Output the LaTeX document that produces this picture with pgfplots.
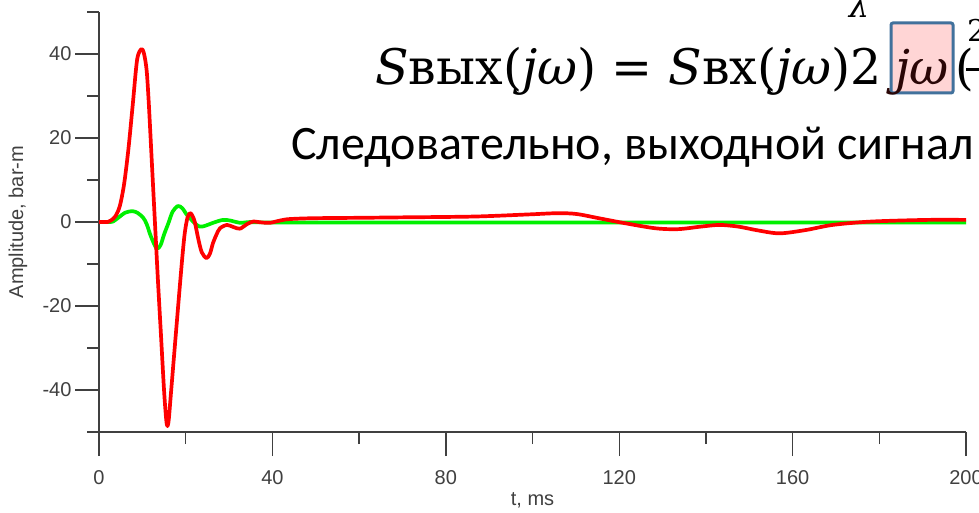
\documentclass[border=0pt]{standalone}
\usepackage{fontspec}
\usepackage{pgfplots}
\usepackage{pgfplotstable}
\pgfplotsset{compat=1.18}
\setmainfont{Liberation Sans}
\newfontfamily\slidefont{Carlito}
\newfontfamily\eqfont{DejaVu Serif}
\definecolor{axisgray}{HTML}{404040}
\definecolor{boxpink}{HTML}{FFD5D5}
\definecolor{boxblue}{HTML}{41719C}
\definecolor{boxtext}{HTML}{2A0606}
\definecolor{trred}{HTML}{FF0000}
\definecolor{trgreen}{HTML}{00F000}

% output trace (red)
\pgfplotstableread{
t a
0 0
2 0
2.8 0.4
3.8 1.4
4.8 3.8
5.8 9.1
6.8 17.5
7.8 28.1
8.8 38.7
9.8 41.2
10.4 40
11 36
11.5 28
12.2 14
12.9 0
13.6 -14
14.3 -27
15.0 -40
15.5 -47
15.8 -48.6
16.1 -47
16.5 -42
17.1 -34.5
17.9 -24.5
18.7 -14.6
19.3 -7.5
19.8 -2.5
20.4 1.0
21 2.1
21.5 1.6
22.1 0
22.9 -4
23.7 -7.2
24.8 -8.6
25.6 -7.5
26.3 -5
27.1 -3
27.9 -1.5
29.5 -0.7
31 -1.2
32.5 -1.6
34 -0.6
35.5 0.1
37.5 -0.1
39.4 -0.2
42 0.4
44 0.7
49.4 0.9
60 1.0
69.4 1.1
86.5 1.3
99 1.8
105.8 2.1
110.2 1.9
115.3 0.9
121.4 -0.3
128.4 -1.5
133.6 -1.7
138.8 -1.1
143.1 -0.7
147.5 -1.1
152 -2.0
157 -2.7
163.1 -1.9
169.2 -0.7
178 0.1
191 0.5
200 0.5
}\redtrace

% input trace (green)
\pgfplotstableread{
t a
0 0
2 0
3.2 0.1
4.8 1.3
6 2.2
7.7 2.6
9 2.1
10.2 1.0
11 -0.5
12 -3.5
13.3 -6.3
14.2 -5.5
15 -3
16 -0.3
17 2.5
18.2 3.8
19.2 3.3
20.2 1.8
21 0.9
22 -0.2
23.2 -1.1
24.5 -0.9
26.3 -0.2
28.6 0.5
30.5 0.3
32.5 -0.2
35 0
40 -0.1
100 -0.1
200 -0.1
}\greentrace

\begin{document}
\begin{tikzpicture}[x=1pt,y=1pt]
\clip (0,0) rectangle (979,512);
\fill[white] (0,0) rectangle (979,512);

% slide text behind the chart
\node[anchor=base west, inner sep=0, font=\slidefont\fontsize{48}{58}\selectfont]
  at (291,352) {Следовательно, выходной сигнал};
\node[anchor=base west, inner sep=0, font=\eqfont\fontsize{49}{58}\selectfont]
  at (375,427) {\textit{S}вых(\textit{jω})~=~\textit{S}вх(\textit{jω})2};
\draw[boxblue, line width=3pt, fill=boxpink, rounded corners=2pt] (891,489) rectangle (953,419);
\node[anchor=base, inner sep=0, text=boxtext, font=\eqfont\fontsize{48}{58}\selectfont]
  at (922,427) {\textit{jω}};
\node[anchor=base west, inner sep=0, font=\eqfont\fontsize{48}{58}\selectfont] at (955,427) {(};
\node[anchor=base west, inner sep=0, font=\eqfont\fontsize{30}{36}\selectfont] at (967,470) {2};
\draw[line width=3pt] (966,442) -- (979,442);
\node[anchor=base, inner sep=0, font=\eqfont\fontsize{32}{38}\selectfont] at (859,494) {\textit{λ}};

\begin{axis}[
    at={(99pt,80pt)}, anchor=south west,
    scale only axis, width=867pt, height=420pt,
    xmin=0, xmax=200, ymin=-50, ymax=50,
    axis lines=left,
    axis line style={-, draw=axisgray, line width=1.4pt},
    every tick/.style={draw=axisgray, line width=1.4pt},
    tick align=outside,
    major tick length=24pt,
    minor tick length=12pt,
    xtick={0,40,...,200}, minor xtick={20,60,...,180},
    ytick={-40,-20,...,40}, minor ytick={-50,-30,...,50},
    /pgf/number format/assume math mode=true,
    tick label style={font=\fontsize{20}{24}\selectfont, text=axisgray},
    xticklabel style={yshift=-11pt},
    xlabel={t, ms}, ylabel={Amplitude, bar-m},
    label style={font=\fontsize{20}{24}\selectfont, text=axisgray},
    xlabel style={at={(axis description cs:0.5,-0.162)}, anchor=center},
    ylabel style={at={(axis description cs:-0.0934,0.5)}, anchor=center},
]
\addplot[draw=trgreen, line width=3.7pt, smooth, line join=round] table[x=t, y=a] {\greentrace};
\addplot[draw=trred, line width=3.7pt, smooth, line join=round] table[x=t, y=a] {\redtrace};
\end{axis}
\end{tikzpicture}
\end{document}
